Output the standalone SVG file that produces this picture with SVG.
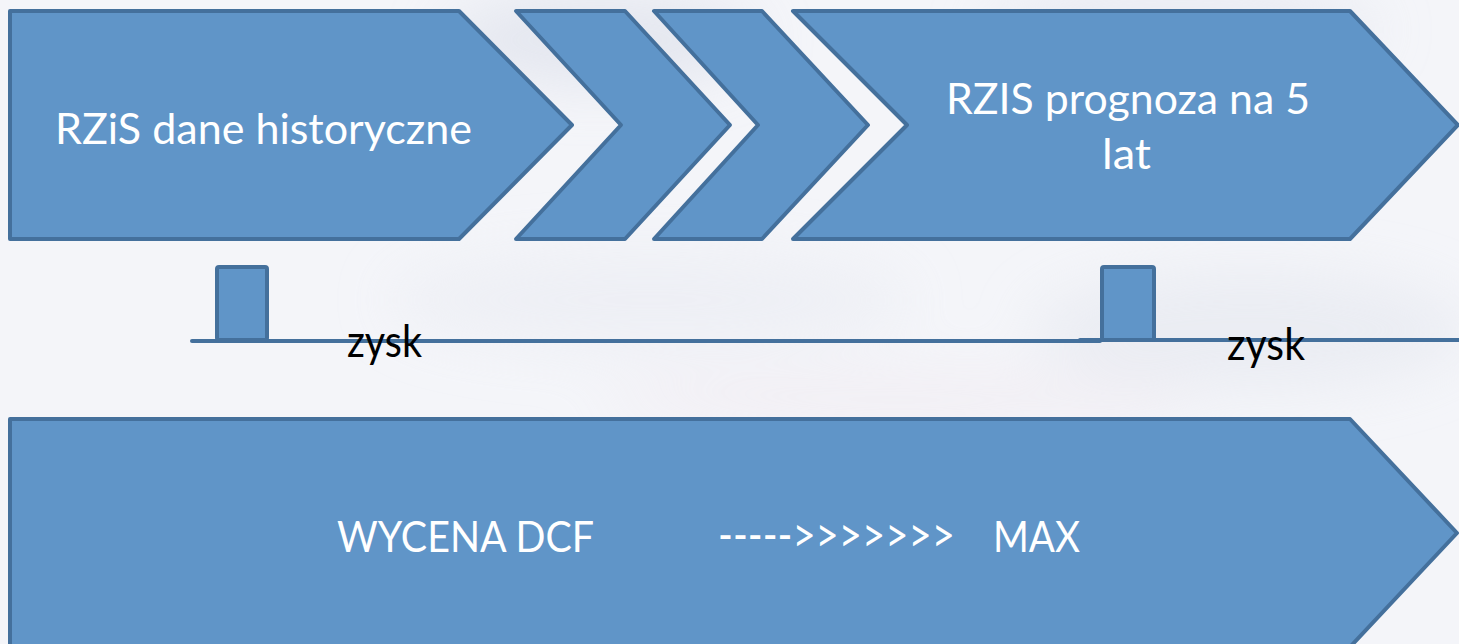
<svg xmlns="http://www.w3.org/2000/svg" width="1459" height="644" viewBox="0 0 1459 644">
  <defs>
    <filter id="haze" x="-50%" y="-50%" width="200%" height="200%">
      <feGaussianBlur stdDeviation="28"/>
    </filter>
    <style>
      .shape { fill: #6095c8; stroke: #44709c; stroke-width: 4; stroke-linejoin: round; }
      .axis { stroke: #44709c; stroke-width: 4; stroke-linecap: round; fill: none; }
      .label { font-family: Lato, "Open Sans", "Noto Sans", sans-serif; font-size: 42px; fill: #ffffff; }
      .arrow { font-size: 48px; }
      .note { font-family: Lato, "Open Sans", "Noto Sans", sans-serif; font-size: 44px; fill: #000000; }
    </style>
  </defs>

  <!-- soft cloudy backdrop -->
  <rect x="0" y="0" width="1459" height="644" fill="#f4f5f9"/>
  <g filter="url(#haze)" opacity="0.55">
    <ellipse cx="600" cy="40" rx="160" ry="45" fill="#d7dbe7"/>
    <ellipse cx="1180" cy="30" rx="200" ry="40" fill="#dfe2ec"/>
    <ellipse cx="1250" cy="330" rx="220" ry="60" fill="#e3e6ee"/>
    <ellipse cx="650" cy="300" rx="260" ry="50" fill="#e9ebf2"/>
    <ellipse cx="900" cy="400" rx="300" ry="25" fill="#f0e8ef"/>
  </g>

  <!-- timeline axis -->
  <g id="connectors">
    <line class="axis" x1="192" y1="341" x2="1100" y2="341"/>
    <line class="axis" x1="1080" y1="340" x2="1470" y2="340"/>
  </g>

  <g id="historical">
    <path class="shape" d="M10,11 H459 L572,125 L459,239 H10 Z"/>
    <text class="label" x="55" y="144" textLength="417" lengthAdjust="spacingAndGlyphs">RZiS dane historyczne</text>
  </g>

  <g id="step-1">
    <path class="shape" d="M516,11 H625 L730,125 L625,239 H516 L621,125 Z"/>
  </g>

  <g id="step-2">
    <path class="shape" d="M654,11 H762 L868,125 L762,239 H654 L758,125 Z"/>
  </g>

  <g id="forecast">
    <path class="shape" d="M793,11 H1350 L1458,125 L1350,239 H793 L907,125 Z"/>
    <text class="label" x="946" y="114" textLength="364" lengthAdjust="spacingAndGlyphs">RZIS prognoza na 5</text>
    <text class="label" x="1102" y="169" textLength="49" lengthAdjust="spacingAndGlyphs">lat</text>
  </g>

  <g id="profit-historical">
    <rect class="shape" x="217" y="267" width="50" height="73" rx="2"/>
    <text class="note" x="347" y="357" textLength="75" lengthAdjust="spacingAndGlyphs">zysk</text>
  </g>

  <g id="profit-forecast">
    <rect class="shape" x="1102" y="267" width="52" height="73" rx="2"/>
    <text class="note" x="1227" y="360" textLength="78" lengthAdjust="spacingAndGlyphs">zysk</text>
  </g>

  <g id="valuation">
    <path class="shape" d="M10,419 H1350 L1457,533 L1350,647 H10 Z"/>
    <text class="label" x="337" y="552" textLength="257" lengthAdjust="spacingAndGlyphs">WYCENA DCF</text>
    <text class="label arrow" x="718" y="552" textLength="237" lengthAdjust="spacingAndGlyphs">-----&gt;&gt;&gt;&gt;&gt;&gt;&gt;</text>
    <text class="label" x="993" y="552" textLength="87" lengthAdjust="spacingAndGlyphs">MAX</text>
  </g>
</svg>
